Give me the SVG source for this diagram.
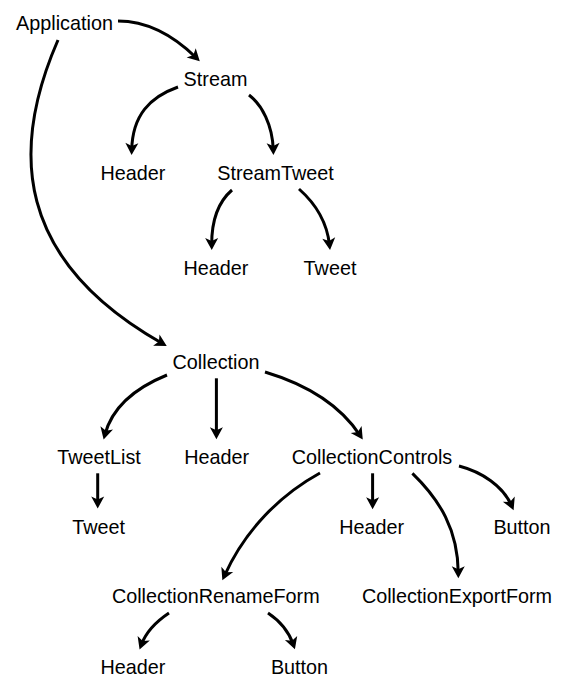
<svg xmlns="http://www.w3.org/2000/svg" width="567" height="690" viewBox="0 0 567 690">
<style>
text{font-family:"Liberation Sans",Arial,Helvetica,sans-serif;font-size:19.8px;fill:#000;text-anchor:middle}
.e{fill:none;stroke:#000;stroke-width:3;marker-end:url(#ah)}
</style>
<defs>
<marker id="ah" markerUnits="userSpaceOnUse" markerWidth="14" markerHeight="14" viewBox="0 -7 14 14" refX="7" refY="0" orient="auto" overflow="visible">
<path d="M0,-6.5 L12,0 L0,6.5 L3,0 z" fill="#000"/>
</marker>
</defs>
<rect width="567" height="690" fill="#fff"/>
<g id="connectors">
<path class="e" d="M118,21 C150,21 176,38 196.2,57.7"/>
<path class="e" d="M58,40 C10,150 15,260 162.4,343.5"/>
<path class="e" d="M178,87 C150,97 132.5,115 131.7,150"/>
<path class="e" d="M249,95 C262,105 272.5,125 273.3,150"/>
<path class="e" d="M232,190 C217,203 211.5,222 211.7,245"/>
<path class="e" d="M299,189 C316,204 327,222 329.5,245"/>
<path class="e" d="M167,375 C135,388 112,408 104.9,434.6"/>
<path class="e" d="M216.4,378.3 L216.4,434.3"/>
<path class="e" d="M265,372 C305,384 340,405 360,435.3"/>
<path class="e" d="M97.7,473.3 L97.7,503.5"/>
<path class="e" d="M320,473 C280,495 245,530 224.4,575.8"/>
<path class="e" d="M372.6,473.3 L372.6,504.3"/>
<path class="e" d="M412.4,473.3 C440,500 458,530 458.3,573.3"/>
<path class="e" d="M459,466 C482,472 503,486 511.6,505.6"/>
<path class="e" d="M169,613 C157,621 146,632 141.3,644.8"/>
<path class="e" d="M268,613 C280,621 289,632 293.3,644.6"/>
</g>
<g id="application"><text x="64.5" y="30">Application</text></g>
<g id="stream"><text x="215.5" y="86">Stream</text></g>
<g id="stream-header"><text x="133" y="180">Header</text></g>
<g id="streamtweet"><text x="275.5" y="180">StreamTweet</text></g>
<g id="streamtweet-header"><text x="216" y="275">Header</text></g>
<g id="streamtweet-tweet"><text x="330" y="275">Tweet</text></g>
<g id="collection"><text x="216" y="369.3">Collection</text></g>
<g id="tweetlist"><text x="99" y="464">TweetList</text></g>
<g id="collection-header"><text x="216.7" y="464">Header</text></g>
<g id="collectioncontrols"><text x="372" y="464">CollectionControls</text></g>
<g id="tweetlist-tweet"><text x="98.7" y="534">Tweet</text></g>
<g id="controls-header"><text x="371.7" y="534">Header</text></g>
<g id="controls-button"><text x="522" y="534">Button</text></g>
<g id="collectionrenameform"><text x="215.8" y="603.3">CollectionRenameForm</text></g>
<g id="collectionexportform"><text x="457" y="603">CollectionExportForm</text></g>
<g id="rename-header"><text x="133" y="674">Header</text></g>
<g id="rename-button"><text x="299.5" y="674">Button</text></g>
</svg>
